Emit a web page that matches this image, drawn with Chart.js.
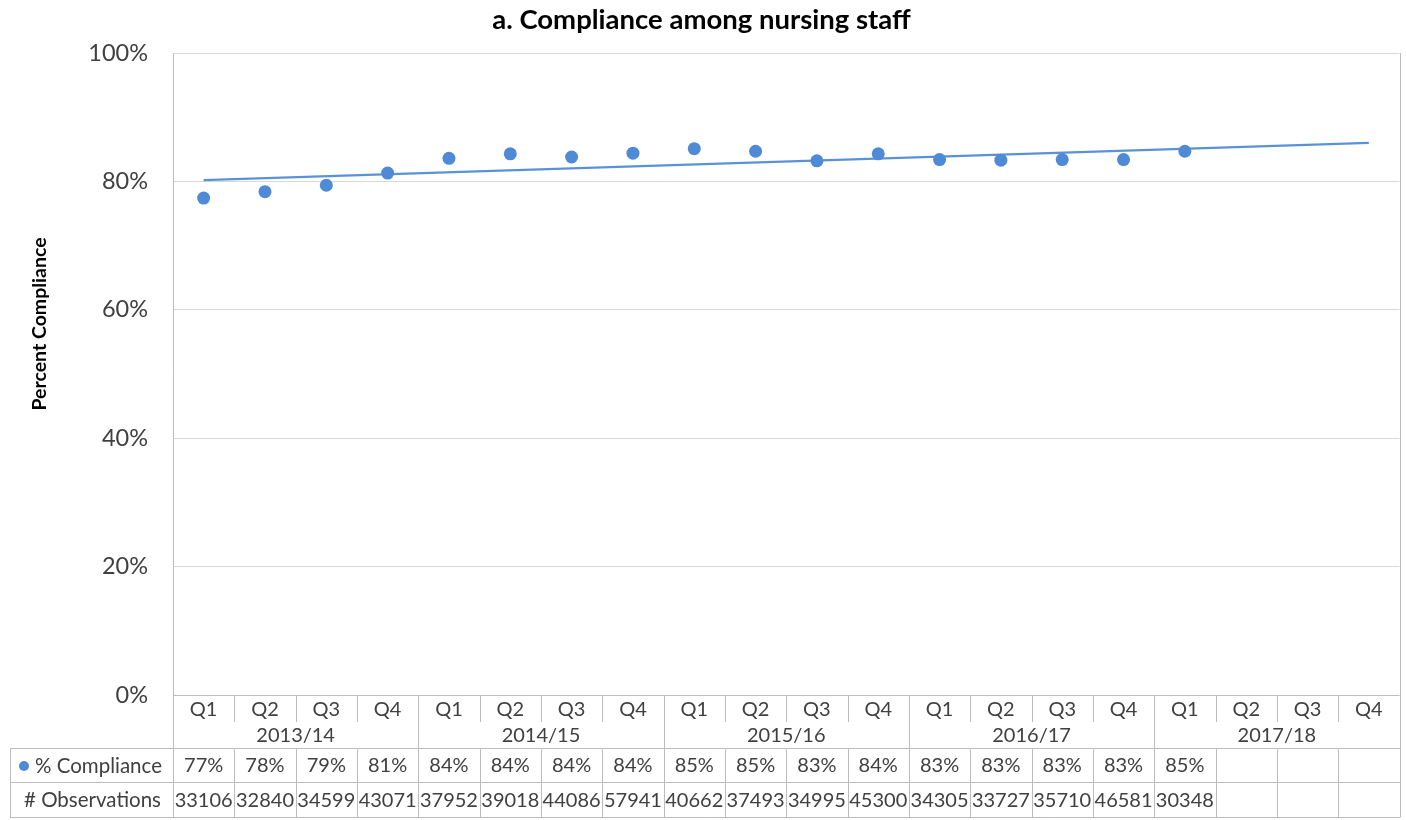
<!DOCTYPE html>
<html>
<head>
<meta charset="utf-8">
<title>Compliance among nursing staff</title>
<script src="https://cdn.jsdelivr.net/npm/chart.js@4.4.1/dist/chart.umd.min.js"></script>
<style>
  html, body { margin: 0; padding: 0; background: #fff; }
  #wrap { width: 1406px; height: 820px; position: relative; }
</style>
</head>
<body>
<div id="wrap"><canvas id="grafico"></canvas></div>
<script>
// Datos
const quarters = ['Q1','Q2','Q3','Q4','Q1','Q2','Q3','Q4','Q1','Q2','Q3','Q4','Q1','Q2','Q3','Q4','Q1','Q2','Q3','Q4'];
const years = ['2013/14', '2014/15', '2015/16', '2016/17', '2017/18'];
const compliance = [77.4, 78.4, 79.4, 81.3, 83.6, 84.3, 83.8, 84.4, 85.1, 84.7, 83.2, 84.3, 83.4, 83.3, 83.4, 83.4, 84.7, null, null, null];
const complianceLabels = ['77%','78%','79%','81%','84%','84%','84%','84%','85%','85%','83%','84%','83%','83%','83%','83%','85%','','',''];
const observations = ['33106','32840','34599','43071','37952','39018','44086','57941','40662','37493','34995','45300','34305','33727','35710','46581','30348','','',''];
const trendEnds = [80.2, 86.0]; // línea de tendencia: primer y último trimestre
const yTicks = [0, 20, 40, 60, 80, 100];

const FONT = 'Lato, "Open Sans", sans-serif';
const BLUE = '#4f8ad6';
const LINE = '#bdbdbd';
const TXT = '#404040';

// Serie de tendencia: solo extremos, con huecos
const trendData = quarters.map((q, i) => i === 0 ? trendEnds[0] : (i === quarters.length - 1 ? trendEnds[1] : null));

// --- Plugin: tabla de datos bajo el eje X + título del eje Y ---
const dataTablePlugin = {
  id: 'dataTable',
  afterDraw(chart) {
    const ctx = chart.ctx;
    const x = chart.scales.x;
    const area = chart.chartArea;
    const n = quarters.length;
    const w = (area.right - area.left) / n;
    const rowQ = area.bottom, rowY = 722, rowC = 748, rowO = 782, rowEnd = 817;
    const leftCol = 10;
    const px = v => Math.round(v) + 0.5;

    ctx.save();
    ctx.strokeStyle = LINE;
    ctx.lineWidth = 1;
    ctx.beginPath();
    // borde derecho del área de trazado
    ctx.moveTo(px(area.right), area.top); ctx.lineTo(px(area.right), rowEnd);
    // horizontales
    ctx.moveTo(area.left, px(rowQ)); ctx.lineTo(area.right, px(rowQ));
    [rowC, rowO, rowEnd].forEach(y => { ctx.moveTo(leftCol, px(y)); ctx.lineTo(area.right + 1, px(y)); });
    // verticales
    ctx.moveTo(px(leftCol), rowC); ctx.lineTo(px(leftCol), rowEnd);
    ctx.moveTo(px(area.left), rowQ); ctx.lineTo(px(area.left), rowEnd);
    for (let i = 1; i < n; i++) {
      const xx = px(area.left + i * w);
      if (i % 4 === 0) {
        ctx.moveTo(xx, rowQ); ctx.lineTo(xx, rowEnd);
      } else {
        ctx.moveTo(xx, rowQ); ctx.lineTo(xx, rowY);
        ctx.moveTo(xx, rowC); ctx.lineTo(xx, rowEnd);
      }
    }
    ctx.stroke();

    // textos de la tabla
    ctx.fillStyle = TXT;
    ctx.font = '20px ' + FONT;
    ctx.textAlign = 'center';
    ctx.textBaseline = 'middle';
    quarters.forEach((q, i) => {
      const cx = x.getPixelForValue(i);
      ctx.fillText(q, cx, (rowQ + rowY) / 2 + 1);
      ctx.fillText(complianceLabels[i], cx, (rowC + rowO) / 2 + 1);
      ctx.fillText(observations[i], cx, (rowO + rowEnd) / 2 + 1);
    });
    years.forEach((y, j) => {
      const cx = area.left + (j * 4 + 2) * w;
      ctx.fillText(y, cx, (rowY + rowC) / 2 + 1);
    });

    // etiquetas de fila
    ctx.font = '20.5px ' + FONT;
    ctx.fillText('# Observations', (leftCol + area.left) / 2 + 1, (rowO + rowEnd) / 2 + 1);
    ctx.textAlign = 'left';
    ctx.fillText('% Compliance', 35, (rowC + rowO) / 2 + 1);
    ctx.fillStyle = BLUE;
    ctx.beginPath();
    ctx.arc(24, (rowC + rowO) / 2 + 1, 5, 0, Math.PI * 2);
    ctx.fill();

    // título del eje Y
    ctx.fillStyle = '#000';
    ctx.font = 'bold 19.5px ' + FONT;
    ctx.textAlign = 'center';
    ctx.translate(40, 324);
    ctx.rotate(-Math.PI / 2);
    ctx.fillText('Percent Compliance', 0, 0);
    ctx.restore();
  }
};

new Chart(document.getElementById('grafico'), {
  type: 'line',
  data: {
    labels: quarters,
    datasets: [
      {
        label: '% Compliance',
        data: compliance,
        showLine: false,
        pointRadius: 6.5,
        pointBackgroundColor: BLUE,
        pointBorderWidth: 0,
        borderColor: BLUE,
        order: 0
      },
      {
        label: 'Trend',
        data: trendData,
        spanGaps: true,
        borderColor: '#5a92d8',
        borderWidth: 2.2,
        pointRadius: 0,
        order: 1
      }
    ]
  },
  options: {
    responsive: true,
    maintainAspectRatio: false,
    animation: false,
    layout: { padding: { left: 0, right: 3, top: 0, bottom: 125 } },
    plugins: {
      legend: { display: false },
      tooltip: { enabled: false },
      title: {
        display: true,
        text: 'a. Compliance among nursing staff',
        color: '#000',
        font: { family: FONT, size: 27.5, weight: 'bold' },
        padding: { top: 4, bottom: 16 }
      }
    },
    scales: {
      x: { display: false, offset: true },
      y: {
        min: 0,
        max: 100,
        afterFit: s => { s.width = 173; },
        afterBuildTicks: s => { s.ticks = yTicks.map(v => ({ value: v })); },
        ticks: {
          padding: 25,
          color: TXT,
          font: { family: FONT, size: 23.5 },
          callback: v => v + '%'
        },
        grid: { color: '#d9d9d9', drawTicks: false },
        border: { color: LINE }
      }
    }
  },
  plugins: [dataTablePlugin]
});
</script>
</body>
</html>
